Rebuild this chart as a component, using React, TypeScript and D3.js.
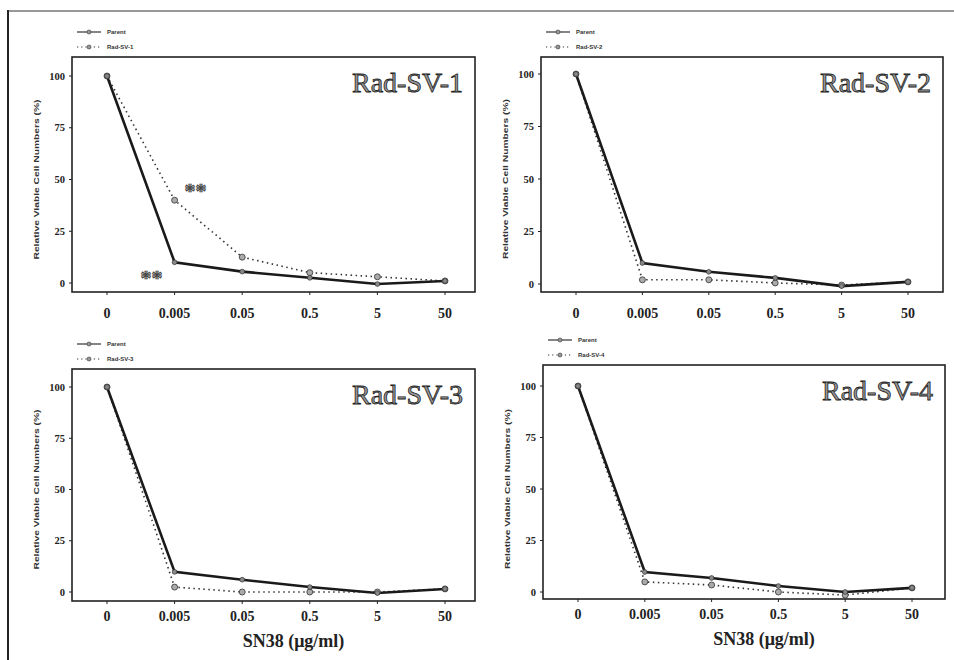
import React from "react";
import * as d3 from "d3";

const categories = ["0", "0.005", "0.05", "0.5", "5", "50"];
const yTicks = [0, 25, 50, 75, 100];
const panelTitles = ["Rad-SV-1", "Rad-SV-2", "Rad-SV-3", "Rad-SV-4"];
const parent1 = [100, 10, 5.5, 2.5, -0.5, 1];
const radsv1 = [100, 40, 12.5, 5, 3, 1];
const parent2 = [100, 10, 5.8, 2.9, -1, 1];
const radsv2 = [100, 2, 2, 0.5, -0.5, 1];
const parent3 = [100, 9.8, 6, 2.4, -0.5, 1.5];
const radsv3 = [100, 2.4, 0, 0, 0, 1.5];
const parent4 = [100, 9.7, 6.8, 2.9, 0, 2];
const radsv4 = [100, 4.9, 3.4, 0, -1.5, 2];
const parentSeries = [parent1, parent2, parent3, parent4];
const radSeries = [radsv1, radsv2, radsv3, radsv4];
const legendParent = "Parent";
const yTitle = "Relative Viable Cell Numbers (%)";
const xTitle = "SN38 (\u03bcg/ml)";

// layout (positions only)
const boxes = [
  { left: 72, top: 57, right: 475, bottom: 292, y0: 283, y100: 76, x0: 107, x50: 445 },
  { left: 541, top: 57, right: 943, bottom: 292, y0: 284, y100: 74, x0: 576, x50: 908 },
  { left: 72, top: 369, right: 475, bottom: 601, y0: 592, y100: 387, x0: 107, x50: 445 },
  { left: 543, top: 365, right: 945, bottom: 599, y0: 592, y100: 386, x0: 578, x50: 912 },
];

function Panel({ idx }: { idx: number }) {
  const b = boxes[idx];
  const x = d3.scalePoint<string>().domain(categories).range([b.x0, b.x50]);
  const y = d3.scaleLinear().domain([0, 100]).range([b.y0, b.y100]);
  const line = d3
    .line<number>()
    .x((_, i) => x(categories[i]) as number)
    .y((v) => y(v));
  const par = parentSeries[idx];
  const rad = radSeries[idx];
  const showXTitle = idx >= 2;
  const legendX = b.left + 5;
  return (
    <g>
      <rect x={b.left} y={b.top} width={b.right - b.left} height={b.bottom - b.top} fill="none" stroke="#222" strokeWidth={1.6} />
      {/* legend */}
      <g fontFamily="Liberation Sans, Arial, sans-serif" fontSize={6} fontWeight="bold" fill="#333">
        <line x1={legendX} x2={legendX + 24} y1={b.top - 25} y2={b.top - 25} stroke="#333" strokeWidth={1.2} />
        <circle cx={legendX + 12} cy={b.top - 25} r={2} fill="#999" stroke="#333" strokeWidth={0.6} />
        <text x={legendX + 30} y={b.top - 23}>{legendParent}</text>
        <line x1={legendX} x2={legendX + 24} y1={b.top - 10} y2={b.top - 10} stroke="#333" strokeWidth={1.2} strokeDasharray="1.2,3" />
        <circle cx={legendX + 12} cy={b.top - 10} r={2} fill="#999" stroke="#333" strokeWidth={0.6} />
        <text x={legendX + 30} y={b.top - 8}>{panelTitles[idx]}</text>
      </g>
      {/* y ticks */}
      {yTicks.map((t) => (
        <g key={t}>
          <line x1={b.left - 3} x2={b.left} y1={y(t)} y2={y(t)} stroke="#222" strokeWidth={1} />
          <text x={b.left - 7} y={y(t) + 3.5} textAnchor="end" fontFamily="Liberation Serif, serif" fontWeight="bold" fontSize={10.5} fill="#222">
            {t}
          </text>
        </g>
      ))}
      <text
        transform={`translate(${b.left - 33},${(b.y0 + b.y100) / 2}) rotate(-90)`}
        textAnchor="middle"
        fontFamily="Liberation Sans, Arial, sans-serif"
        fontWeight="bold"
        fontSize={7}
        fill="#333"
        textLength={160}
        lengthAdjust="spacingAndGlyphs"
      >
        {yTitle}
      </text>
      {/* x ticks */}
      {categories.map((c) => (
        <g key={c}>
          <line x1={x(c)} x2={x(c)} y1={b.bottom} y2={b.bottom + 3} stroke="#222" strokeWidth={1} />
          <text x={x(c)} y={b.bottom + (showXTitle ? 20 : 26)} textAnchor="middle" fontFamily="Liberation Serif, serif" fontWeight="bold" fontSize={14} fill="#222">
            {c}
          </text>
        </g>
      ))}
      {showXTitle && (
        <text x={(b.left + b.right) / 2 + 20} y={b.bottom + 46} textAnchor="middle" fontFamily="Liberation Serif, serif" fontWeight="bold" fontSize={18} fill="#222">
          {xTitle}
        </text>
      )}
      {/* series */}
      <path d={line(rad) || ""} fill="none" stroke="#333" strokeWidth={1.6} strokeDasharray="1.5,3.5" />
      <path d={line(par) || ""} fill="none" stroke="#1a1a1a" strokeWidth={2.6} />
      {rad.map((v, i) => (
        <circle key={"r" + i} cx={x(categories[i]) as number} cy={y(v)} r={3} fill="#aaa" stroke="#333" strokeWidth={0.8} />
      ))}
      {par.map((v, i) => (
        <circle key={"p" + i} cx={x(categories[i]) as number} cy={y(v)} r={2.4} fill="#888" stroke="#222" strokeWidth={0.6} />
      ))}
      {idx === 0 && (
        <g fontFamily="Liberation Serif, serif" fontSize={22} fontWeight="bold" fill="#aaa" stroke="#333" strokeWidth={0.7} textAnchor="middle">
          <text x={(x(categories[1]) as number) + 21} y={y(rad[1]) - 2}>**</text>
          <text x={(x(categories[1]) as number) - 23} y={y(par[1]) + 23}>**</text>
        </g>
      )}
      <text x={b.right - 12} y={b.top + 35} textAnchor="end" fontFamily="Liberation Serif, serif" fontSize={28} fill="#999" stroke="#222" strokeWidth={0.8}>
        {panelTitles[idx]}
      </text>
    </g>
  );
}

export default function App() {
  return (
    <svg width={954} height={660} style={{ position: "absolute", left: 0, top: 0, background: "#fff" }}>
      <rect x={0} y={0} width={954} height={660} fill="#fff" />
      <line x1={8} x2={8} y1={10} y2={660} stroke="#222" strokeWidth={2} />
      <line x1={8} x2={954} y1={11} y2={11} stroke="#333" strokeWidth={1.2} />
      {[0, 1, 2, 3].map((i) => (
        <Panel key={i} idx={i} />
      ))}
    </svg>
  );
}
